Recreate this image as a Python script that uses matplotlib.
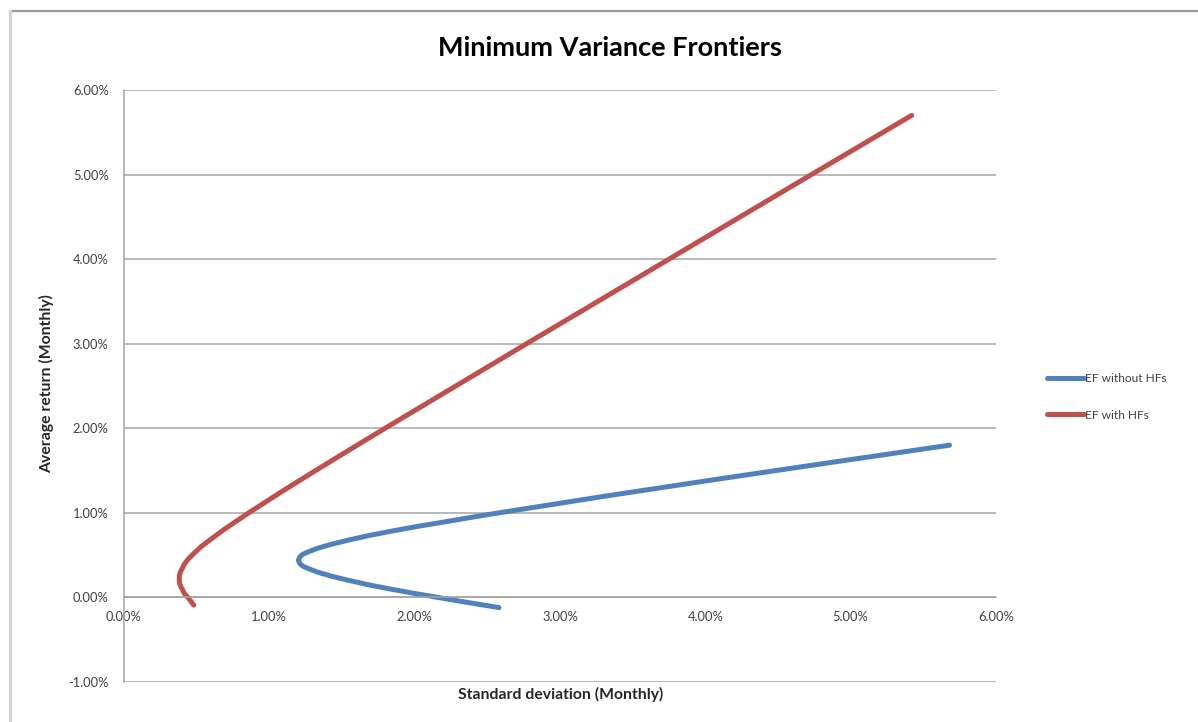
import numpy as np
import matplotlib
matplotlib.use('Agg')
import matplotlib.pyplot as plt
from matplotlib.lines import Line2D
from matplotlib.ticker import FuncFormatter, MultipleLocator

plt.rcParams['font.family'] = ['Lato', 'DejaVu Sans']

# frontier points, in percent per month (std dev, mean return)
sd_without_hf = [2.58, 2.33, 2.16, 1.99, 1.83, 1.68, 1.55, 1.43, 1.33, 1.27,
                 1.23, 1.21, 1.20, 1.21, 1.23, 1.27, 1.33, 1.43, 1.55, 1.68,
                 1.83, 2.02, 2.23, 2.40, 2.58, 3.32, 4.09, 4.88, 5.68]
ret_without_hf = [-0.12, -0.05, 0.00, 0.05, 0.10, 0.15, 0.20, 0.25, 0.30, 0.34,
                  0.37, 0.40, 0.44, 0.48, 0.51, 0.54, 0.58, 0.63, 0.68, 0.73,
                  0.78, 0.84, 0.90, 0.95, 1.00, 1.20, 1.40, 1.60, 1.80]

sd_with_hf = [0.48, 0.44, 0.414, 0.40, 0.39, 0.384, 0.381, 0.38, 0.381, 0.384,
              0.39, 0.40, 0.414, 0.44, 0.48, 0.53, 0.607, 0.686, 0.771, 0.858,
              1.084, 1.318, 1.556, 1.796, 2.77, 3.75, 4.73, 5.42]
ret_with_hf = [-0.09, 0.00, 0.05, 0.10, 0.13, 0.16, 0.19, 0.22, 0.25, 0.28,
               0.31, 0.34, 0.39, 0.45, 0.52, 0.60, 0.70, 0.80, 0.90, 1.00,
               1.25, 1.50, 1.75, 2.00, 3.00, 4.00, 5.00, 5.70]

title = 'Minimum Variance Frontiers'
x_label = 'Standard deviation (Monthly)'
y_label = 'Average return (Monthly)'
series_labels = ['EF without HFs', 'EF with HFs']

blue = '#4F81BD'
red = '#C0504D'
grid_grey = '#A6A6A6'
text_grey = '#404040'

W, H = 1198, 722
fig = plt.figure(figsize=(W / 100, H / 100), dpi=100)
ax = fig.add_axes([124 / W, 1 - 682 / H, (996 - 124) / W, (682 - 90) / H])

ax.plot(sd_without_hf, ret_without_hf, color=blue, lw=3.6,
        solid_capstyle='round', solid_joinstyle='round', label=series_labels[0])
ax.plot(sd_with_hf, ret_with_hf, color=red, lw=3.6,
        solid_capstyle='round', solid_joinstyle='round', label=series_labels[1])

ax.set_xlim(0, 6)
ax.set_ylim(-1, 6)
ax.xaxis.set_major_locator(MultipleLocator(1))
ax.yaxis.set_major_locator(MultipleLocator(1))
pct = FuncFormatter(lambda v, _: f'{v:.2f}%')
ax.xaxis.set_major_formatter(pct)
ax.yaxis.set_major_formatter(pct)

ax.grid(axis='y', color=grid_grey, lw=1.1)
ax.set_axisbelow(True)
for s in ['top', 'right']:
    ax.spines[s].set_visible(False)
ax.spines['bottom'].set_position(('data', 0))
ax.spines['bottom'].set_color(grid_grey)
ax.spines['left'].set_color(grid_grey)
ax.spines['left'].set_linewidth(1.1)
ax.spines['bottom'].set_linewidth(1.1)
ax.tick_params(length=0, labelsize=9.3, labelcolor=text_grey)
ax.tick_params(axis='x', pad=10)
ax.tick_params(axis='y', pad=11)

fig.text(610 / W, 1 - 48 / H, title, ha='center', va='center',
         fontsize=19.5, fontweight='bold', color='black')
fig.text(561 / W, 1 - 694 / H, x_label, ha='center', va='center',
         fontsize=11.3, fontweight='bold', color='#262626')
fig.text(47 / W, 1 - 384 / H, y_label, ha='center', va='center',
         rotation=90, fontsize=11.3, fontweight='bold', color='#262626')

fig.legend(loc='upper left', bbox_to_anchor=(1047 / W, 1 - 373 / H),
           frameon=False, fontsize=8.6, handlelength=3.1, handletextpad=0.05,
           labelspacing=2.15, borderpad=0, borderaxespad=0,
           labelcolor=text_grey)

# chart border (top and left edges)
fig.add_artist(Line2D([10 / W, 1], [1 - 11 / H, 1 - 11 / H],
                      transform=fig.transFigure, color='#9A9A9A', lw=1.6))
fig.add_artist(Line2D([10 / W, 10 / W], [0, 1 - 11 / H],
                      transform=fig.transFigure, color='#D4D4D4', lw=2.2))

fig.savefig('out.png', dpi=100)
